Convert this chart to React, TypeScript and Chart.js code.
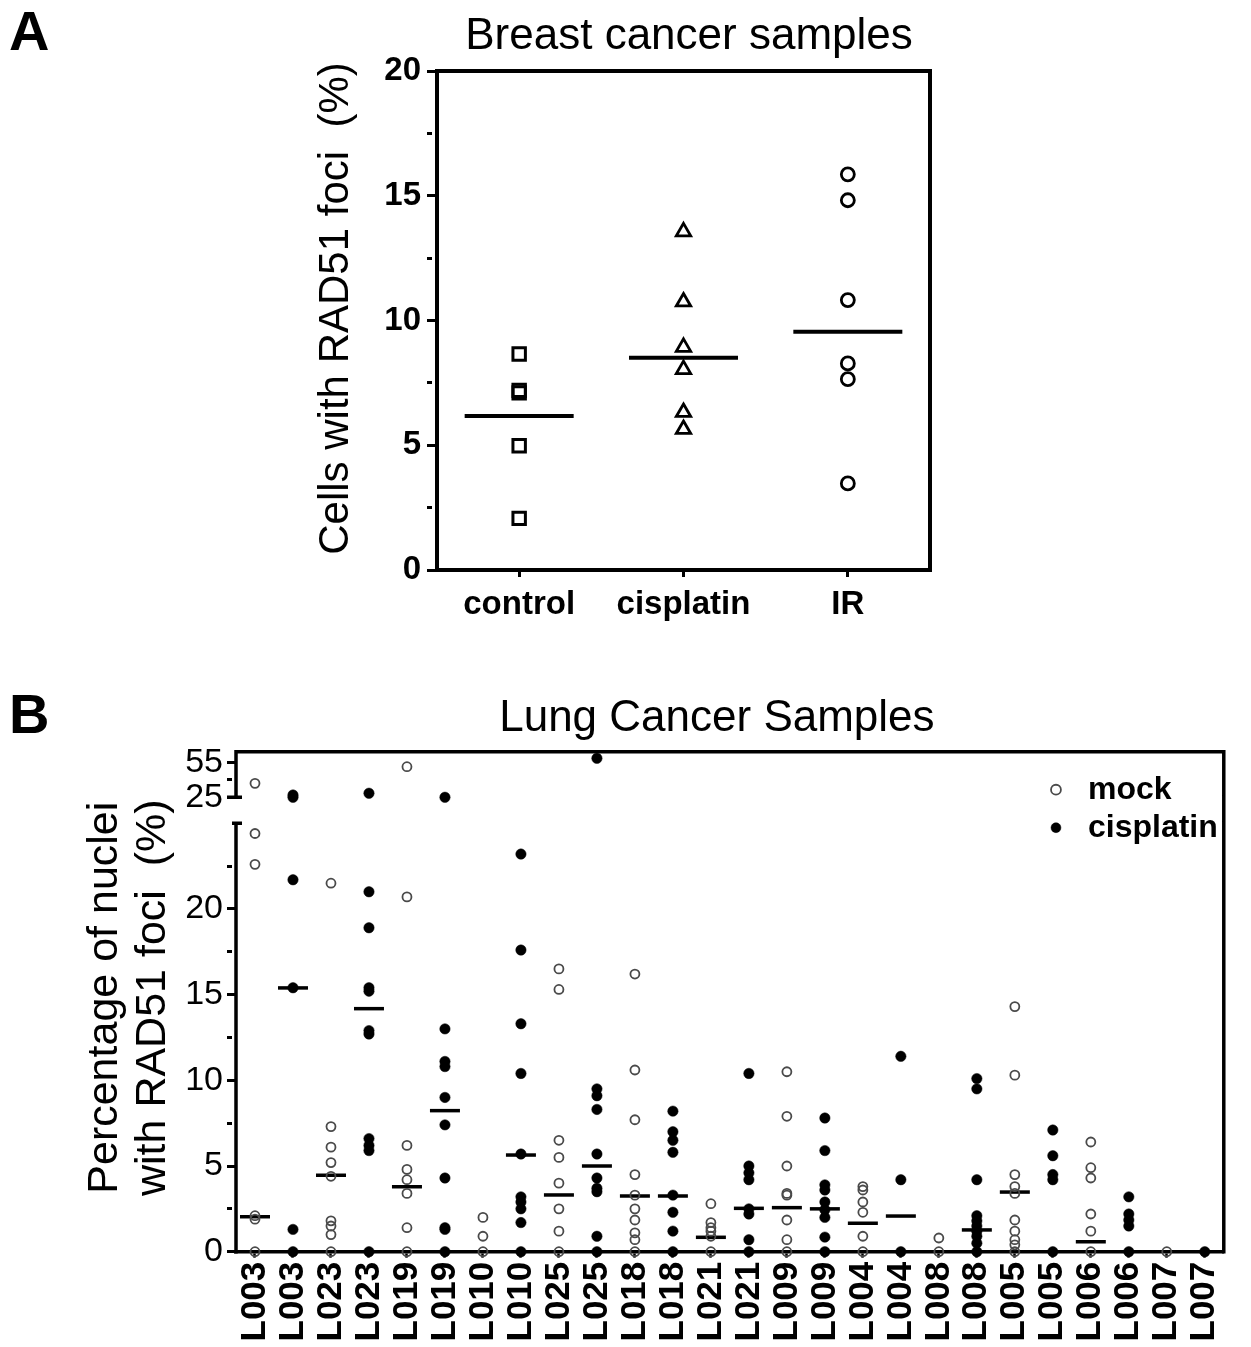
import React, { useEffect, useRef } from 'react';
import { Chart, registerables } from 'chart.js';

Chart.register(...registerables);

const FONT = "'Liberation Sans', Arial, Helvetica, sans-serif";
Chart.defaults.font.family = FONT;
Chart.defaults.color = '#000';

// ---------------- Panel A: Breast cancer samples ----------------
const breastCategories = ['control', 'cisplatin', 'IR'];
const breastControl = [8.66, 7.2, 7.1, 4.98, 2.07];
const breastCisplatin = [13.56, 10.75, 8.93, 8.04, 6.32, 5.64];
const breastIR = [15.86, 14.82, 10.82, 8.28, 7.65, 3.47];
const breastMeans = [6.17, 8.51, 9.55];
const breastYTicks = [0, 2.5, 5, 7.5, 10, 12.5, 15, 17.5, 20];

// ---------------- Panel B: Lung cancer samples ----------------
const lungLabels = [
  'L003', 'L003', 'L023', 'L023', 'L019', 'L019', 'L010', 'L010', 'L025', 'L025',
  'L018', 'L018', 'L021', 'L021', 'L009', 'L009', 'L004', 'L004', 'L008', 'L008',
  'L005', 'L005', 'L006', 'L006', 'L007', 'L007',
];
// even index = mock, odd index = cisplatin
const lungValues: number[][] = [
  [37.1, 24.4, 22.6, 2.1, 1.9, 0],
  [27.0, 25.0, 21.7, 15.4, 1.3, 0],
  [21.5, 7.3, 6.1, 5.2, 4.4, 1.8, 1.5, 1.0, 0],
  [28.5, 21.0, 18.9, 15.4, 15.2, 12.9, 12.7, 6.6, 6.2, 5.9, 0],
  [51.5, 20.7, 6.2, 4.8, 4.2, 3.4, 1.4, 0],
  [25.0, 13.0, 11.1, 10.8, 9.0, 7.4, 4.3, 1.4, 1.3, 0],
  [2.0, 0.9, 0],
  [23.2, 17.6, 13.3, 10.4, 5.7, 3.2, 2.9, 2.5, 1.7, 0],
  [16.5, 15.3, 6.5, 5.5, 4.0, 2.5, 1.2, 0],
  [58.8, 9.5, 9.1, 8.3, 5.7, 4.3, 3.7, 3.5, 0.9, 0],
  [16.2, 10.6, 7.7, 4.5, 3.3, 2.5, 1.85, 1.1, 0.7, 0],
  [8.2, 7.0, 6.5, 5.8, 3.3, 2.3, 1.2, 0],
  [2.8, 1.7, 1.4, 1.2, 0.9, 0],
  [10.4, 5.0, 4.6, 4.2, 2.5, 2.2, 0.7, 0],
  [10.5, 7.9, 5.0, 3.4, 3.3, 1.85, 0.7, 0],
  [7.8, 5.9, 3.9, 3.6, 2.9, 2.45, 2.0, 0.85, 0],
  [3.8, 3.6, 2.9, 2.3, 0.9, 0],
  [11.4, 4.2, 0],
  [0.8, 0],
  [10.1, 9.5, 4.2, 2.1, 1.8, 1.5, 1.2, 0.9, 0.5, 0],
  [14.3, 10.3, 4.5, 3.8, 3.4, 1.85, 1.2, 0.7, 0.4, 0],
  [7.1, 5.6, 4.5, 4.2, 0],
  [6.4, 4.9, 4.3, 2.2, 1.2, 0],
  [3.2, 2.2, 1.85, 1.5, 0],
  [0],
  [0],
];
const lungCenterLines: (number | null)[] = [
  2.04, 15.39, 4.46, 14.18, 3.79, 8.23, null, 5.64, 3.31, 5.0,
  3.25, 3.25, 0.84, 2.53, 2.57, 2.5, 1.66, 2.08, null, 1.27,
  3.48, null, 0.58, null, null, null,
];
const lungLowTicks = [0, 2.5, 5, 7.5, 10, 12.5, 15, 17.5, 20, 22.5];
const lungHighTicks = [25, 40, 55];
const lungHighTickLabels = [25, 55];
const BREAK_VALUE = 25;
const LOW_MAX = 25.8;
const HIGH_MIN = 14.4;
const HIGH_MAX = 64.5;

// ---------------- plugins ----------------
const boxFramePlugin = {
  id: 'boxFrame',
  afterDraw(chart: any, _args: any, opts: any) {
    const { ctx, chartArea: ca } = chart;
    const w = opts.width || 4;
    ctx.save();
    ctx.strokeStyle = '#000';
    ctx.lineWidth = w;
    ctx.beginPath();
    ctx.moveTo(ca.left - w / 2, ca.top);
    ctx.lineTo(ca.right + w / 2, ca.top);
    ctx.moveTo(ca.right, ca.top);
    ctx.lineTo(ca.right, ca.bottom + w / 2);
    ctx.stroke();
    ctx.restore();
  },
};

const brokenAxisPlugin = {
  id: 'brokenAxis',
  afterDraw(chart: any, _args: any, opts: any) {
    const { ctx, chartArea: ca } = chart;
    const lo = chart.scales.yLow;
    const hi = chart.scales.yHigh;
    const w = opts.width || 3.5;
    const x = ca.left;
    const yHi = hi.getPixelForValue(BREAK_VALUE);
    const yLo = lo.getPixelForValue(BREAK_VALUE);
    ctx.save();
    ctx.strokeStyle = '#000';
    ctx.lineWidth = w;
    ctx.beginPath();
    ctx.moveTo(x - w / 2, ca.top);
    ctx.lineTo(ca.right + w / 2, ca.top);
    ctx.moveTo(ca.right, ca.top);
    ctx.lineTo(ca.right, ca.bottom + w / 2);
    ctx.moveTo(x, ca.top);
    ctx.lineTo(x, yHi + w / 2);
    ctx.moveTo(x - 9, yHi);
    ctx.lineTo(x + 6, yHi);
    ctx.moveTo(x, yLo - w / 2);
    ctx.lineTo(x, ca.bottom + w / 2);
    ctx.moveTo(x - 4, yLo);
    ctx.lineTo(x + 6, yLo);
    ctx.stroke();
    ctx.restore();
  },
};

const sideTitlePlugin = {
  id: 'sideTitle',
  afterDraw(chart: any, _args: any, opts: any) {
    if (!opts || !opts.lines) return;
    const { ctx, chartArea: ca } = chart;
    const cy = (ca.top + ca.bottom) / 2 + (opts.yShift || 0);
    ctx.save();
    ctx.fillStyle = '#000';
    ctx.font = opts.font;
    ctx.textAlign = 'center';
    ctx.textBaseline = 'middle';
    opts.lines.forEach((line: string, i: number) => {
      ctx.save();
      ctx.translate(ca.left + opts.xOffsets[i], cy);
      ctx.rotate(-Math.PI / 2);
      ctx.fillText(line, 0, 0);
      ctx.restore();
    });
    ctx.restore();
  },
};

// moves the title (horizontally) and the legend (into the top-right of the plot)
const boxPlacerPlugin = {
  id: 'boxPlacer',
  afterLayout(chart: any, _args: any, opts: any) {
    const ca = chart.chartArea;
    const tb = chart.titleBlock;
    if (tb && opts.titleShift !== undefined) {
      const c = (ca.left + ca.right) / 2 + opts.titleShift;
      const w = tb.right - tb.left;
      tb.left = c - w / 2;
      tb.right = c + w / 2;
    }
    const lg = chart.legend;
    if (lg && opts.legendRight !== undefined) {
      lg.left = ca.right - lg.width - opts.legendRight;
      lg.right = lg.left + lg.width;
      lg.top = ca.top + opts.legendTop;
      lg.bottom = ca.bottom;
    }
  },
};

const minorDash = (ctx: any) => (ctx.tick && ctx.tick.value % 5 !== 0 ? [5, 30] : []);

function makeBreastChart(canvas: HTMLCanvasElement) {
  const pts = (vals: number[], i: number) => vals.map((v) => ({ x: i, y: v }));
  return new Chart(canvas, {
    type: 'scatter',
    data: {
      datasets: [
        {
          label: breastCategories[0],
          data: pts(breastControl, 0),
          pointStyle: 'rect',
          pointRadius: 8.8,
          borderWidth: 3,
          borderColor: '#000',
          backgroundColor: 'rgba(0,0,0,0)',
          clip: false,
        },
        {
          label: breastCategories[1],
          data: pts(breastCisplatin, 1),
          pointStyle: 'triangle',
          pointRadius: 8.3,
          borderWidth: 2.8,
          borderColor: '#000',
          backgroundColor: 'rgba(0,0,0,0)',
          clip: false,
        },
        {
          label: breastCategories[2],
          data: pts(breastIR, 2),
          pointStyle: 'circle',
          pointRadius: 6.5,
          borderWidth: 2.8,
          borderColor: '#000',
          backgroundColor: 'rgba(0,0,0,0)',
          clip: false,
        },
        {
          label: 'mean',
          data: breastMeans.map((v, i) => ({ x: i, y: v })),
          pointStyle: 'line',
          pointRadius: 54.5,
          borderWidth: 4,
          borderColor: '#000',
          clip: false,
        },
      ],
    } as any,
    options: {
      responsive: false,
      animation: false,
      events: [],
      layout: { padding: { left: 0, right: 321, top: 0, bottom: 0 }, autoPadding: false },
      plugins: {
        legend: { display: false },
        tooltip: { enabled: false },
        title: {
          display: true,
          text: 'Breast cancer samples',
          fullSize: false,
          color: '#000',
          font: { family: FONT, size: 44, weight: 'normal' },
          padding: { top: 10.6, bottom: 7.6 },
        },
        boxFrame: { width: 4 },
        boxPlacer: { titleShift: 5.5 },
        sideTitle: {
          lines: ['Cells with RAD51 foci  (%)'],
          font: `42px ${FONT}`,
          xOffsets: [-101],
          yShift: -12,
        },
      } as any,
      scales: {
        x: {
          type: 'linear',
          min: -0.5,
          max: 2.5,
          afterBuildTicks: (s: any) => {
            s.ticks = breastCategories.map((_, i) => ({ value: i }));
          },
          afterFit: (s: any) => {
            s.height = 90;
          },
          ticks: {
            callback: (v: any) => breastCategories[v],
            color: '#000',
            font: { family: FONT, size: 33, weight: 'bold' },
            padding: 8,
            autoSkip: false,
            maxRotation: 0,
          },
          grid: { drawOnChartArea: false, tickLength: 7, tickWidth: 3, tickColor: '#000' },
          border: { display: true, width: 4, color: '#000' },
        },
        y: {
          type: 'linear',
          min: 0,
          max: 20,
          afterBuildTicks: (s: any) => {
            s.ticks = breastYTicks.map((v) => ({ value: v }));
          },
          afterFit: (s: any) => {
            s.width = 437;
          },
          ticks: {
            callback: (v: any) => (v % 5 === 0 ? String(v) : ''),
            color: '#000',
            font: { family: FONT, size: 33, weight: 'bold' },
            padding: 6,
            autoSkip: false,
          },
          grid: {
            drawOnChartArea: false,
            tickLength: 10,
            tickWidth: 3,
            tickColor: '#000',
            tickBorderDash: minorDash,
          },
          border: { display: true, width: 4, color: '#000' },
        },
      } as any,
    },
    plugins: [boxFramePlugin, sideTitlePlugin, boxPlacerPlugin],
  });
}

function lungPoints(parity: number, high: boolean) {
  const out: { x: number; y: number }[] = [];
  lungValues.forEach((vals, i) => {
    if (i % 2 !== parity) return;
    vals.forEach((v) => {
      if (high ? v >= BREAK_VALUE : v < BREAK_VALUE) out.push({ x: i, y: v });
    });
  });
  return out;
}

function makeLungChart(canvas: HTMLCanvasElement) {
  const mockStyle = {
    pointStyle: 'circle',
    pointRadius: 4.5,
    borderWidth: 1.8,
    borderColor: '#4a4a4a',
    backgroundColor: 'rgba(0,0,0,0)',
    clip: false,
  };
  const cisStyle = {
    pointStyle: 'circle',
    pointRadius: 5.2,
    borderWidth: 0.5,
    borderColor: '#000',
    backgroundColor: '#000',
    clip: false,
  };
  const centre: { x: number; y: number }[] = [];
  lungCenterLines.forEach((v, i) => {
    if (v !== null) centre.push({ x: i, y: v });
  });
  const yTickFont = { family: FONT, size: 34, weight: 'normal' };
  return new Chart(canvas, {
    type: 'scatter',
    data: {
      datasets: [
        { label: 'mock', data: lungPoints(0, false), yAxisID: 'yLow', ...mockStyle },
        { label: 'cisplatin', data: lungPoints(1, false), yAxisID: 'yLow', ...cisStyle },
        { label: 'mock (upper)', data: lungPoints(0, true), yAxisID: 'yHigh', ...mockStyle },
        { label: 'cisplatin (upper)', data: lungPoints(1, true), yAxisID: 'yHigh', ...cisStyle },
        {
          label: 'centre',
          data: centre,
          yAxisID: 'yLow',
          pointStyle: 'line',
          pointRadius: 15,
          borderWidth: 3.5,
          borderColor: '#000',
          clip: false,
        },
      ],
    } as any,
    options: {
      responsive: false,
      animation: false,
      events: [],
      layout: { padding: { left: 0, right: 11, top: 0, bottom: 0 }, autoPadding: false },
      plugins: {
        tooltip: { enabled: false },
        title: {
          display: true,
          text: 'Lung Cancer Samples',
          color: '#000',
          font: { family: FONT, size: 44, weight: 'normal' },
          padding: { top: 32.6, bottom: 6.3 },
        },
        legend: {
          display: true,
          position: 'chartArea',
          align: 'start',
          labels: {
            usePointStyle: true,
            boxWidth: 32,
            boxHeight: 7,
            padding: 6,
            color: '#000',
            font: { family: FONT, size: 32, weight: 'bold' },
            filter: (item: any) => item.datasetIndex < 2,
          },
        },
        boxPlacer: { titleShift: -13, legendRight: -4, legendTop: 16 },
        brokenAxis: { width: 3.5 },
        sideTitle: {
          lines: ['Percentage of nuclei', 'with RAD51 foci  (%)'],
          font: `43px ${FONT}`,
          xOffsets: [-131, -83],
          yShift: -4,
        },
      } as any,
      scales: {
        x: {
          type: 'linear',
          min: -0.5,
          max: lungLabels.length - 0.5,
          afterBuildTicks: (s: any) => {
            s.ticks = lungLabels.map((_, i) => ({ value: i }));
          },
          afterFit: (s: any) => {
            s.height = 95.3;
          },
          ticks: {
            callback: (v: any) => lungLabels[v],
            color: '#000',
            font: { family: FONT, size: 35, weight: 'bold' },
            padding: 4,
            autoSkip: false,
            minRotation: 90,
            maxRotation: 90,
          },
          grid: { drawOnChartArea: false, tickLength: 6, tickWidth: 2.5, tickColor: '#000' },
          border: { display: true, width: 3.5, color: '#000' },
        },
        yLow: {
          type: 'linear',
          position: 'left',
          stack: 'lung',
          stackWeight: 442.2,
          weight: 0,
          min: 0,
          max: LOW_MAX,
          afterBuildTicks: (s: any) => {
            s.ticks = lungLowTicks.map((v) => ({ value: v }));
          },
          afterFit: (s: any) => {
            s.width = 236;
          },
          ticks: {
            callback: (v: any) => (v % 5 === 0 ? String(v) : ''),
            color: '#000',
            font: yTickFont,
            padding: 4,
            autoSkip: false,
          },
          grid: {
            drawOnChartArea: false,
            tickLength: 9,
            tickWidth: 3,
            tickColor: '#000',
            tickBorderDash: minorDash,
          },
          border: { display: false },
        },
        yHigh: {
          type: 'linear',
          position: 'left',
          stack: 'lung',
          stackWeight: 57.8,
          weight: 1,
          min: HIGH_MIN,
          max: HIGH_MAX,
          afterBuildTicks: (s: any) => {
            s.ticks = lungHighTicks.map((v) => ({ value: v }));
          },
          afterFit: (s: any) => {
            s.width = 236;
          },
          ticks: {
            callback: (v: any) => (lungHighTickLabels.includes(v) ? String(v) : ''),
            color: '#000',
            font: yTickFont,
            padding: 4,
            autoSkip: false,
          },
          grid: {
            drawOnChartArea: false,
            tickLength: 9,
            tickWidth: 3,
            tickColor: '#000',
            tickBorderDash: (ctx: any) =>
              ctx.tick && !lungHighTickLabels.includes(ctx.tick.value) ? [5, 30] : [],
          },
          border: { display: false },
        },
      } as any,
    },
    plugins: [brokenAxisPlugin, sideTitlePlugin, boxPlacerPlugin],
  });
}

export default function App() {
  const refA = useRef<HTMLCanvasElement>(null);
  const refB = useRef<HTMLCanvasElement>(null);

  useEffect(() => {
    const a = refA.current ? makeBreastChart(refA.current) : null;
    const b = refB.current ? makeLungChart(refB.current) : null;
    return () => {
      a && a.destroy();
      b && b.destroy();
    };
  }, []);

  const letterStyle: React.CSSProperties = {
    position: 'absolute',
    left: 9,
    fontFamily: FONT,
    fontWeight: 'bold',
    fontSize: 56,
    lineHeight: '1',
    color: '#000',
    margin: 0,
  };

  return (
    <div
      style={{
        position: 'absolute',
        left: 0,
        top: 0,
        width: 1251,
        height: 1347,
        background: '#fff',
        overflow: 'hidden',
      }}
    >
      <canvas
        ref={refA}
        width={1251}
        height={660}
        style={{ position: 'absolute', left: 0, top: 0, width: 1251, height: 660 }}
      />
      <canvas
        ref={refB}
        width={1251}
        height={687}
        style={{ position: 'absolute', left: 0, top: 660, width: 1251, height: 687 }}
      />
      <div style={{ ...letterStyle, top: 2.7 }}>A</div>
      <div style={{ ...letterStyle, top: 685.7 }}>B</div>
    </div>
  );
}
